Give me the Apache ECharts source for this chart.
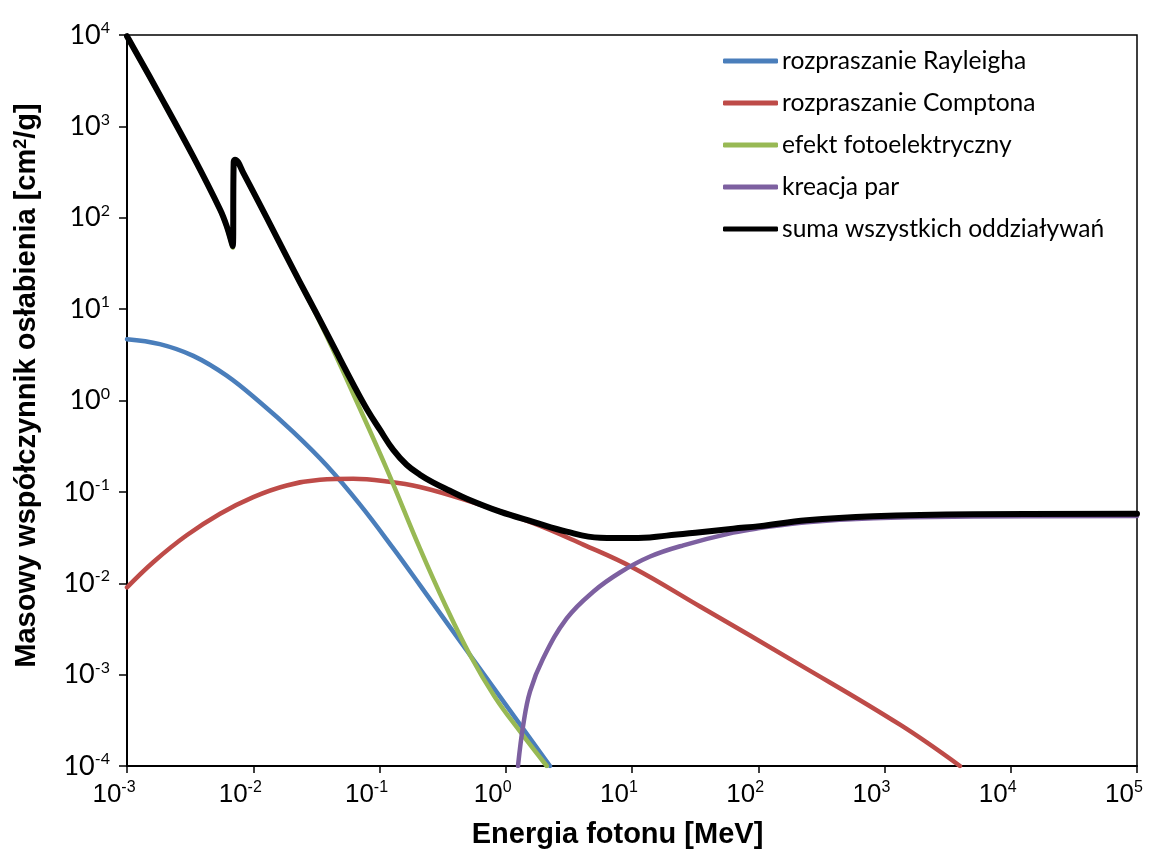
<!DOCTYPE html>
<html>
<head>
<meta charset="utf-8">
<script src="https://cdn.jsdelivr.net/npm/echarts@6/dist/echarts.min.js"></script>
<style>
  html, body { margin: 0; padding: 0; background: #fff; }
  #chart { width: 1163px; height: 854px; }
</style>
</head>
<body>
<div id="chart"></div>
<script>
// Mass attenuation coefficient vs photon energy (log-log)
const seriesNames = [
  'rozpraszanie Rayleigha',
  'rozpraszanie Comptona',
  'efekt fotoelektryczny',
  'kreacja par',
  'suma wszystkich oddziaływań'
];

// Decade exponents shown as tick labels
const xTickExponents = [-3, -2, -1, 0, 1, 2, 3, 4, 5];
const yTickExponents = [-4, -3, -2, -1, 0, 1, 2, 3, 4];

// Rayleigh scattering
const rayleighE  = [0.001, 0.00182, 0.00335, 0.00616, 0.0113, 0.0208, 0.0382, 0.0701, 0.129, 0.209, 0.521, 2.24];
const rayleighMu = [4.69, 4.14, 3.08, 1.87, 0.955, 0.45, 0.194, 0.0724, 0.0239, 0.00953, 0.00164, 0.0001];

// Compton scattering
const comptonE  = [0.001, 0.00162, 0.00297, 0.00546, 0.01, 0.0184, 0.0338, 0.062, 0.114, 0.209, 0.491, 1.65, 4.11, 10.2, 34.6, 214, 1327, 3960];
const comptonMu = [0.009, 0.0171, 0.0335, 0.0577, 0.0877, 0.1175, 0.1355, 0.139, 0.130, 0.113, 0.0807, 0.0455, 0.0265, 0.0148, 0.00557, 0.00128, 0.000283, 0.0001];

// Photoelectric effect (with absorption edge)
const photoE  = [0.001, 0.001826, 0.003351, 0.00546, 0.00616, 0.00688, 0.0070, 0.00716, 0.00834, 0.0234, 0.03181, 0.04305, 0.0620, 0.1140, 0.2093, 0.3303, 0.5210, 0.8220, 1.297, 2.111];
const photoMu = [9600, 2160, 460, 121, 79, 47, 405, 428, 305, 19.5, 8.5, 3.56, 1.178, 0.1788, 0.02394, 0.005862, 0.001639, 0.000566, 0.000239, 0.0001];

// Pair production
const pairE  = [1.25, 1.377, 1.556, 1.98, 3.04, 4.93, 8.03, 13.9, 25.5, 63.4, 103, 242, 815, 5050, 100000];
const pairMu = [0.0001, 0.000283, 0.000653, 0.00151, 0.00412, 0.00807, 0.0131, 0.0196, 0.026, 0.0358, 0.0401, 0.0466, 0.0515, 0.0536, 0.0545];

// Total of all interactions
const totalE  = [0.001, 0.001826, 0.003351, 0.00546, 0.00616, 0.00688, 0.0070, 0.00716, 0.00834, 0.0234, 0.03181, 0.04305, 0.0620, 0.0793, 0.101, 0.1285, 0.164, 0.209, 0.267, 0.361, 0.491, 0.9, 1.65, 3.04, 5.58, 10.2, 18.8, 34.6, 63.4, 103, 242, 815, 5050, 100000];
const totalMu = [9700, 2186, 466, 123, 81, 49, 410, 432, 310, 19.8, 8.85, 3.95, 1.50, 0.807, 0.476, 0.288, 0.198, 0.154, 0.126, 0.1028, 0.0841, 0.0607, 0.047, 0.0367, 0.0315, 0.0312, 0.0332, 0.0362, 0.0396, 0.0422, 0.0490, 0.0542, 0.0570, 0.0577];

const colors = ['#4A7EBB', '#BE4B48', '#98B954', '#7D60A0', '#000000'];
const widths = [4.5, 4.5, 4.5, 4.5, 6];
const xs = [rayleighE, comptonE, photoE, pairE, totalE];
const ys = [rayleighMu, comptonMu, photoMu, pairMu, totalMu];

function pairs(a, b) { return a.map((v, i) => [v, b[i]]); }

function powLabel(exps) {
  return function (v) {
    const e = Math.round(Math.log10(v));
    if (exps.indexOf(e) < 0) return '';
    return '{b|10}{s|' + e + '}';
  };
}

const chart = echarts.init(document.getElementById('chart'), null, { renderer: 'canvas' });

const option = {
  backgroundColor: '#ffffff',
  animation: false,
  grid: {
    left: 127, right: 26, top: 35, bottom: 86,
    show: true, borderColor: '#000', borderWidth: 1.5, containLabel: false
  },
  legend: {
    orient: 'vertical',
    left: 723, top: 48, padding: 0,
    itemWidth: 55, itemHeight: 5, itemGap: 16,
    icon: 'roundRect',
    data: seriesNames,
    textStyle: { fontFamily: 'Lato', fontSize: 24.6, color: '#000', lineHeight: 26, padding: [0, 0, 0, -1] }
  },
  xAxis: {
    type: 'log', logBase: 10,
    min: 0.001, max: 100000, splitNumber: 8,
    name: 'Energia fotonu [MeV]',
    nameLocation: 'middle', nameGap: 54,
    nameTextStyle: { fontFamily: 'Liberation Sans', fontWeight: 'bold', fontSize: 29, color: '#000', padding: [0, 29, 0, 0] },
    axisLine: { show: true, onZero: false, lineStyle: { color: '#000', width: 2 } },
    axisTick: { show: true, inside: false, length: 7, lineStyle: { color: '#000', width: 1.5 } },
    minorTick: { show: false },
    splitLine: { show: false },
    axisLabel: {
      margin: 14,
      padding: [0, 26, 0, 0],
      formatter: powLabel(xTickExponents),
      rich: {
        b: { fontFamily: 'Liberation Sans', fontSize: 26, color: '#000', lineHeight: 30 },
        s: { fontFamily: 'Liberation Sans', fontSize: 16, color: '#000', lineHeight: 16, verticalAlign: 'top' }
      }
    }
  },
  yAxis: {
    type: 'log', logBase: 10,
    min: 0.0001, max: 10000, splitNumber: 8,
    name: 'Masowy współczynnik osłabienia [cm{sup|2}/g]',
    nameLocation: 'middle', nameGap: 86, nameRotate: 90,
    nameTextStyle: {
      fontFamily: 'Liberation Sans', fontWeight: 'bold', fontSize: 29, color: '#000',
      padding: [0, 0, 0, 30],
      rich: { sup: { fontFamily: 'Liberation Sans', fontWeight: 'bold', fontSize: 18, verticalAlign: 'top', lineHeight: 18 } }
    },
    axisLine: { show: true, onZero: false, lineStyle: { color: '#000', width: 2 } },
    axisTick: { show: true, inside: false, length: 8, lineStyle: { color: '#000', width: 1.5 } },
    minorTick: { show: false },
    splitLine: { show: false },
    axisLabel: {
      margin: 17,
      formatter: powLabel(yTickExponents),
      rich: {
        b: { fontFamily: 'Lato', fontSize: 27, color: '#000', lineHeight: 30 },
        s: { fontFamily: 'Lato', fontSize: 16, color: '#000', lineHeight: 16, verticalAlign: 'top' }
      }
    }
  },
  series: seriesNames.map((name, i) => ({
    name: name,
    type: 'line',
    data: pairs(xs[i], ys[i]),
    showSymbol: false,
    symbol: 'none',
    smooth: 0.4,
    clip: true,
    color: colors[i],
    itemStyle: { color: colors[i] },
    lineStyle: { color: colors[i], width: widths[i], cap: 'round', join: 'round' },
    z: 2 + i
  }))
};

chart.setOption(option);
</script>
</body>
</html>
